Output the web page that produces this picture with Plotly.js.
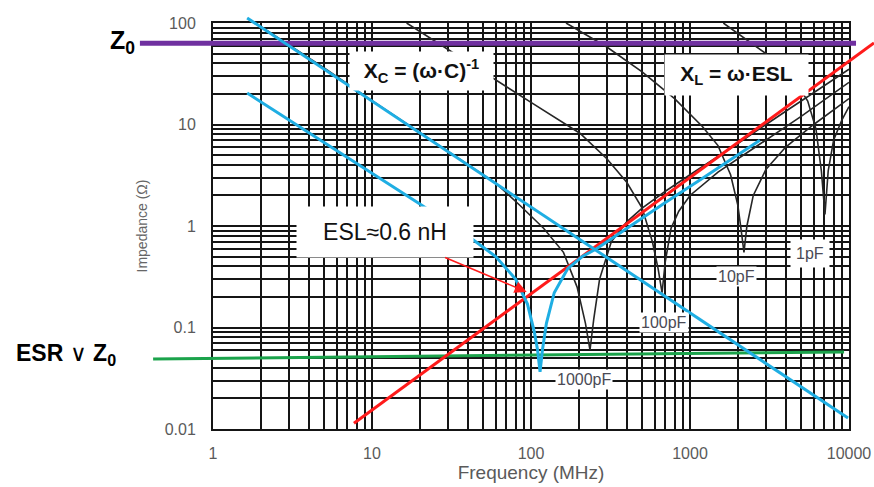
<!DOCTYPE html>
<html><head><meta charset="utf-8">
<script src="https://cdn.plot.ly/plotly-3.0.1.min.js"></script>
<style>html,body{margin:0;padding:0;background:#fff}</style>
</head><body><div id="chart" style="width:874px;height:487px"></div>
<script>
// ---- ticks / grid ----
const xTickVals = [1,10,100,1000,10000];
const xTickText = ['1','10','100','1000','10000'];
const xMinorVals = [2,3,4,5,6,7,8,9,20,30,40,50,60,70,80,90,200,300,400,500,600,700,800,900,2000,3000,4000,5000,6000,7000,8000,9000];
const yTickVals = [0.01,0.1,1,10,100];
const yTickText = ['0.01','0.1','1','10','100'];
const yMinorVals = [0.02,0.03,0.04,0.05,0.06,0.07,0.08,0.09,0.2,0.3,0.4,0.5,0.6,0.7,0.8,0.9,2,3,4,5,6,7,8,9,20,30,40,50,60,70,80,90];

// ---- datasheet curves (black) : frequency MHz, impedance ohm ----
const c1000F = [1.85,5,10,30,60,85,120,160,195,220,235,248,270,320,400,500,700,1000,2000,4000,10000];
const c1000Z = [100,36,17.2,5.5,2.65,1.6,0.95,0.55,0.25,0.11,0.06,0.12,0.3,0.7,1.1,1.5,2.2,3.2,6.5,13.5,35];
const c100F = [16.5,40,100,203,300,400,500,580,630,667,700,760,850,1000,1500,2500,5000,10000];
const c100Z = [100,41,16.5,8.2,4.6,2.7,1.5,0.7,0.38,0.22,0.45,0.95,1.4,2.0,3.4,5.8,12,26];
const c10F = [166,300,500,800,1200,1500,1800,2000,2100,2185,2280,2500,3000,4000,6000,10000];
const c10Z = [100,58,33,18,9.5,6.2,3.2,1.6,0.9,0.55,1.0,2.0,3.6,6.0,10,18];
const c1F = [1620,2500,3500,4500,5500,6200,6700,7060,7400,8000,9000,10000];
const c1Z = [100,62,42,28,17,9,3.5,1.3,3.5,7,11,15];

// ---- highlighted lines ----
const xcF = [1.64, 9860];            // ideal capacitor reactance
const xcZ = [112, 0.0128];
const capF = [1.64,5,10,20,40,60,80,95,105,110,114,118,125,140,170,210,260,400,700,1200,2000,2750];
const capZ = [20.4,6.7,3.35,1.65,0.8,0.5,0.3,0.17,0.09,0.06,0.0365,0.06,0.11,0.22,0.38,0.5,0.6,0.95,1.7,2.95,5.0,7.0];
const xlF = [7.7, 14355];            // X_L = w*ESL
const xlZ = [0.0114, 63.5];
const z0F = [0.347, 11070];          // Z0 level
const z0Z = [63, 63];
const esrF = [0.42, 9310];           // ESR level
const esrZ = [0.049, 0.0574];

// ---- labels ----
const capLabels = ['1000pF','100pF','10pF','1pF'];

const W=874, H=487, L=213, R=849, T=23, B=429;
const xDec=(R-L)/4, yDec=(B-T)/4;
const px = v => v/W, py = v => 1 - v/H;

function blk(f,z){return {x:f,y:z,xaxis:'x',yaxis:'y',mode:'lines',line:{color:'#262626',width:1.6},hoverinfo:'skip'};}
function hl(f,z,c,w){return {x:f,y:z,xaxis:'x2',yaxis:'y2',mode:'lines',line:{color:c,width:w},hoverinfo:'skip'};}

const data = [
  blk(c1000F,c1000Z), blk(c100F,c100Z), blk(c10F,c10Z), blk(c1F,c1Z),
  hl(esrF,esrZ,'#1ba34b',3),
  hl(z0F,z0Z,'#7030a0',5),
  hl(xlF,xlZ,'#ff1b1b',3),
  hl(xcF,xcZ,'#1faee3',3),
  hl(capF,capZ,'#1faee3',3)
];

const fam = 'Arial, "Liberation Sans", sans-serif';
const axFont = {family:fam, size:16, color:'#5a5a5a'};
const gridCol = '#151515';
function ann(x,y,text,extra){return Object.assign({xref:'paper',yref:'paper',x:px(x),y:py(y),text:text,showarrow:false,xanchor:'center',yanchor:'middle'},extra);}
const layout = {
  width:W, height:H, margin:{l:0,r:0,t:0,b:0},
  paper_bgcolor:'#ffffff', plot_bgcolor:'rgba(0,0,0,0)', showlegend:false,
  font:{family:fam, color:'#555'},
  xaxis:{type:'log', domain:[L/W, R/W], range:[0,4], anchor:'y',
    tickmode:'array', tickvals:xTickVals, ticktext:xTickText,
    minor:{tickmode:'array', tickvals:xMinorVals, showgrid:true, gridcolor:gridCol, gridwidth:2, ticks:''},
    showgrid:true, gridcolor:gridCol, gridwidth:2, ticks:'', tickfont:axFont, ticklabelstandoff:9,
    showline:true, linecolor:gridCol, linewidth:2, mirror:true, zeroline:false, fixedrange:true,
    title:{text:'Frequency (MHz)', font:{family:fam, size:19, color:'#5a5a5a'}, standoff:4}},
  yaxis:{type:'log', domain:[1-B/H, 1-T/H], range:[-2,2], anchor:'x',
    tickmode:'array', tickvals:yTickVals, ticktext:yTickText,
    minor:{tickmode:'array', tickvals:yMinorVals, showgrid:true, gridcolor:gridCol, gridwidth:2, ticks:''},
    showgrid:true, gridcolor:gridCol, gridwidth:2, ticks:'', tickfont:axFont, ticklabelstandoff:12,
    showline:true, linecolor:gridCol, linewidth:2, mirror:true, zeroline:false, fixedrange:true,
    title:{text:'Impedance (Ω)', font:{family:fam, size:14, color:'#666'}, standoff:14}},
  xaxis2:{type:'log', domain:[0,1], range:[-L/xDec, 4+(W-R)/xDec], anchor:'y2', visible:false, fixedrange:true},
  yaxis2:{type:'log', domain:[0,1], range:[-2-(H-B)/yDec, 2+T/yDec], anchor:'x2', visible:false, fixedrange:true},
  annotations:[
    ann(122,42,'<b>Z<sub>0</sub></b>',{font:{size:25,color:'#000'}}),
    ann(66,354,'<b>ESR</b> ∨ <b>Z<sub>0</sub></b>',{font:{size:23,color:'#000'}}),
    ann(421,71,'<b>X<sub>C</sub> = (ω·C)<sup>-1</sup></b>',{font:{size:21,color:'#111'},bgcolor:'#fff',width:143,height:38,borderpad:0}),
    ann(736,75,'<b>X<sub>L</sub> = ω·ESL</b>',{font:{size:21,color:'#111'},bgcolor:'#fff',width:143,height:40,borderpad:0}),
    {xref:'x',yref:'y',x:Math.log10(94),y:Math.log10(0.224),ax:-142,ay:-60,text:'ESL≈0.6 nH',showarrow:true,arrowcolor:'#ff1b1b',arrowhead:2,arrowsize:1.6,arrowwidth:1.5,font:{size:23,color:'#111'},bgcolor:'#fff',width:176,height:50,borderpad:0,xanchor:'center',yanchor:'middle'},
    ann(584,379,capLabels[0],{font:{size:16,color:'#4a4a55'},bgcolor:'#fff',borderpad:1}),
    ann(664,322,capLabels[1],{font:{size:16,color:'#4a4a55'},bgcolor:'#fff',borderpad:1}),
    ann(736,276,capLabels[2],{font:{size:16,color:'#4a4a55'},bgcolor:'#fff',borderpad:1}),
    ann(810,254,capLabels[3],{font:{size:16,color:'#4a4a55'},bgcolor:'#fff',borderpad:5})
  ]
};
Plotly.newPlot('chart', data, layout, {staticPlot:true, displayModeBar:false});
</script></body></html>
